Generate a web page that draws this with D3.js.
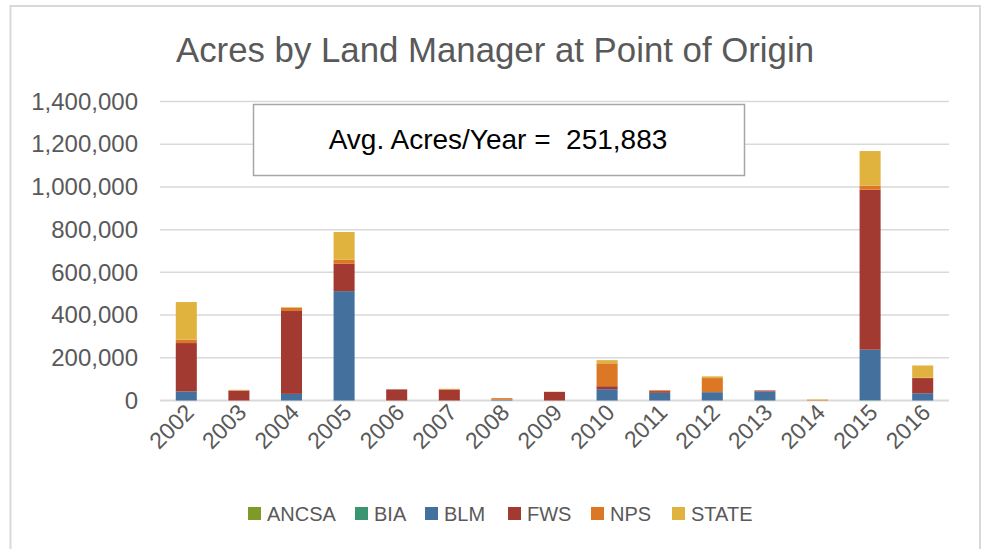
<!DOCTYPE html>
<html>
<head>
<meta charset="utf-8">
<script src="https://cdn.jsdelivr.net/npm/d3@7"></script>
<style>
  body { margin: 0; background: #fff; }
  text { font-family: "Liberation Sans", Arial, sans-serif; }
</style>
</head>
<body>
<svg id="chart" width="989" height="549"></svg>
<script>
// Data (acres)
const years = ["2002","2003","2004","2005","2006","2007","2008","2009","2010","2011","2012","2013","2014","2015","2016"];
const managers = ["ANCSA", "BIA", "BLM", "FWS", "NPS", "STATE"];
const ancsa = [0, 0, 0, 0, 0, 0, 0, 0, 0, 0, 0, 0, 0, 0, 0];
const bia   = [0, 0, 0, 0, 0, 0, 0, 0, 0, 0, 0, 0, 0, 2000, 0];
const blm   = [42000, 0, 31000, 512000, 0, 0, 3000, 0, 53000, 36000, 39000, 42000, 0, 236000, 34000];
const fws   = [227000, 46000, 388000, 128000, 52000, 50000, 1000, 40000, 14000, 8000, 0, 5000, 0, 749000, 71000];
const nps   = [16000, 2000, 16000, 19000, 0, 3000, 7000, 1000, 107000, 4000, 66000, 0, 3000, 19000, 2000];
const state = [176000, 2000, 2000, 130000, 0, 2000, 0, 0, 15000, 0, 8000, 0, 2000, 162000, 57000];
const yTicks = [0, 200000, 400000, 600000, 800000, 1000000, 1200000, 1400000];
const colors = ["#7f9a27", "#3a9670", "#44709d", "#a23a31", "#dc7726", "#e0b33e"];
const avgLabel = "Avg. Acres/Year =  251,883";

const seriesValues = [ancsa, bia, blm, fws, nps, state];
const table = years.map((y, i) => {
    let row = { year: y };
    managers.forEach((m, k) => { row[m] = seriesValues[k][i]; });
    return row;
});

const svg = d3.select("#chart");

// Outer border
svg.append("rect")
    .attr("x", 10.5).attr("y", 6)
    .attr("width", 969.5).attr("height", 560)
    .attr("fill", "#fff")
    .attr("stroke", "#d9d9d9")
    .attr("stroke-width", 2);

// Scales
let x = d3.scaleBand()
    .domain(years)
    .range([160, 949])
    .paddingInner(0.6)
    .paddingOuter(0.3);

let y = d3.scaleLinear()
    .domain([0, 1400000])
    .range([400.5, 101.5]);

// Gridlines
svg.append("g")
    .selectAll("line")
    .data(yTicks)
    .join("line")
    .attr("x1", 160).attr("x2", 949)
    .attr("y1", d => y(d)).attr("y2", d => y(d))
    .attr("stroke", "#d9d9d9")
    .attr("stroke-width", d => d === 0 ? 2 : 1.5);

// Y axis labels
let yAxis = d3.axisLeft(y)
    .tickValues(yTicks)
    .tickFormat(d3.format(","))
    .tickSize(0)
    .tickPadding(0);

svg.append("g")
    .attr("transform", "translate(138,0)")
    .call(yAxis)
    .call(g => g.select(".domain").remove())
    .selectAll("text")
    .attr("fill", "#595959")
    .style("font-size", "24px")
    .style("font-family", "'Liberation Sans', Arial, sans-serif");

// Stacked bars
let stack = d3.stack().keys(managers);
let layers = stack(table);

svg.append("g")
    .selectAll("g")
    .data(layers)
    .join("g")
    .attr("fill", (d, i) => colors[i])
    .selectAll("rect")
    .data(d => d)
    .join("rect")
    .attr("x", d => x(d.data.year))
    .attr("width", x.bandwidth())
    .attr("y", d => y(d[1]))
    .attr("height", d => y(d[0]) - y(d[1]));

// X axis labels
let xAxis = d3.axisBottom(x).tickSize(0).tickPadding(0);
svg.append("g")
    .attr("transform", "translate(0,400)")
    .call(xAxis)
    .call(g => g.select(".domain").remove())
    .selectAll("text")
    .attr("fill", "#595959")
    .style("font-size", "23px")
    .style("font-family", "'Liberation Sans', Arial, sans-serif")
    .attr("text-anchor", "end")
    .attr("dy", 0)
    .attr("transform", "translate(9,14) rotate(-45)");

// Title
svg.append("text")
    .attr("x", 495).attr("y", 62)
    .attr("text-anchor", "middle")
    .attr("fill", "#595959")
    .style("font-size", "35px")
    .attr("textLength", 638)
    .attr("lengthAdjust", "spacingAndGlyphs")
    .text("Acres by Land Manager at Point of Origin");

// Average box
svg.append("rect")
    .attr("x", 253.5).attr("y", 104.5)
    .attr("width", 491).attr("height", 71)
    .attr("fill", "#fff")
    .attr("stroke", "#a6a6a6")
    .attr("stroke-width", 1.5);

svg.append("text")
    .attr("x", 498).attr("y", 149)
    .attr("text-anchor", "middle")
    .attr("fill", "#000")
    .style("font-size", "28px")
    .style("white-space", "pre")
    .text(avgLabel);

// Legend
let legendX = [248, 355, 425, 508, 591, 672];
let legend = svg.append("g")
    .selectAll("g")
    .data(managers)
    .join("g")
    .attr("transform", (d, i) => `translate(${legendX[i]},507)`);

legend.append("rect")
    .attr("width", 13).attr("height", 13)
    .attr("fill", (d, i) => colors[i]);

legend.append("text")
    .attr("x", 19).attr("y", 13.5)
    .attr("fill", "#595959")
    .style("font-size", "20px")
    .style("font-family", "'Liberation Sans', Arial, sans-serif")
    .text(d => d);
</script>
</body>
</html>
